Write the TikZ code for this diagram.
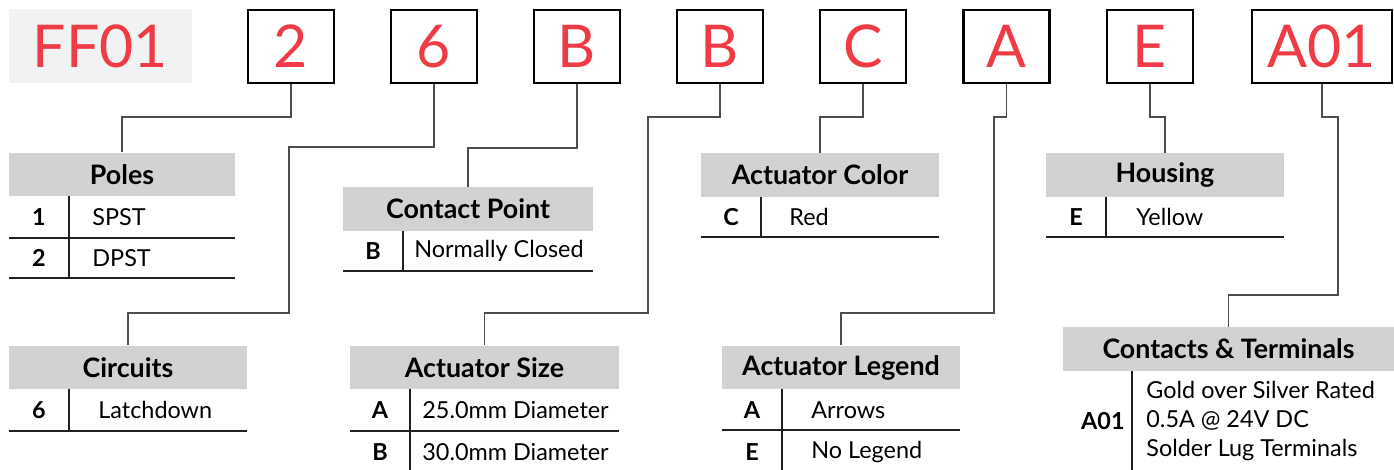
\documentclass[tikz,border=0pt]{standalone}
\usepackage{fontspec}
\setmainfont{Lato}
\usetikzlibrary{positioning}
\definecolor{codered}{HTML}{EE3B45}
\definecolor{hdrgray}{HTML}{D1D2D4}
\definecolor{basegray}{HTML}{F1F2F4}
\definecolor{linkgray}{HTML}{4D4D4D}
\definecolor{rulegray}{HTML}{231F20}
\tikzset{
  codebox/.style={draw=black, line width=1.3pt, minimum width=43pt, minimum height=36.5pt,
    inner sep=0pt, text=codered, font=\fontsize{29.5}{29.5}\selectfont},
  hdr/.style={fill=hdrgray, minimum height=21.75pt, inner sep=0pt,
    font=\fontsize{13.4}{13.4}\selectfont\bfseries},
  keytxt/.style={inner sep=0pt, font=\fontsize{11.7}{11.7}\selectfont\bfseries},
  valtxt/.style={inner sep=0pt, anchor=west, font=\fontsize{11.7}{14.5}\selectfont},
  link/.style={draw=linkgray, line width=0.75pt},
  rule/.style={draw=rulegray, line width=0.6pt}
}
\begin{document}
\begin{tikzpicture}[x=0.5pt, y=-0.5pt]
  \useasboundingbox (0,0) rectangle (1394,470);

  % part number
  \node[fill=basegray, minimum width=91.5pt, minimum height=37pt, inner sep=0pt,
    text=codered, font=\fontsize{29.5}{29.5}\selectfont] (base) at (100.5,46) {FF01};
  \node[codebox] (pol) at (291,46.5) {2};
  \node[codebox] (cir) at (434,46.5) {6};
  \node[codebox] (con) at (577,46.5) {B};
  \node[codebox] (siz) at (720,46.5) {B};
  \node[codebox] (col) at (863,46.5) {C};
  \node[codebox] (leg) at (1006.5,46.5) {A};
  \node[codebox] (hou) at (1150,46.5) {E};
  \node[codebox, minimum width=70pt] (ter) at (1322,46.5) {A01};

  % headers
  \node[hdr, minimum width=113pt] (poles) at (122,174.5) {Poles};
  \node[hdr, minimum width=125pt] (contact) at (468,209) {Contact Point};
  \node[hdr, minimum width=119pt] (circuits) at (128,367.5) {Circuits};
  \node[hdr, minimum width=134.5pt] (size) at (484.5,367.5) {Actuator Size};
  \node[hdr, minimum width=119pt] (color) at (820,175) {Actuator Color};
  \node[hdr, minimum width=119pt] (housing) at (1165,175) {Housing};
  \node[hdr, minimum width=119pt] (legend) at (841,367.5) {Actuator Legend};
  \node[hdr, minimum width=165.5pt] (terms) at (1228.5,349) {Contacts \& Terminals};

  % connectors
  \draw[link] (pol.south) |- (122,117) -- (poles.north);
  \draw[link] (cir.south) |- (289,147) |- (128,313) -- (circuits.north);
  \draw[link] (con.south) |- (468,148) -- (contact.north);
  \draw[link] (siz.south) |- (648,117) |- (484.5,313) -- (size.north);
  \draw[link] (col.south) |- (820,117) -- (color.north);
  \draw[link] (leg.south) |- (994,117) |- (841,313) -- (legend.north);
  \draw[link] (hou.south) |- (1165,117) -- (housing.north);
  \draw[link] (ter.south) |- (1338,117) |- (1228.5,295) -- (terms.north);

  % Poles
  \node[keytxt] (p1) at (39,217) {1};
  \node[valtxt] (p1v) at (92,217) {SPST};
  \node[keytxt] (p2) at (39,258) {2};
  \node[valtxt] (p2v) at (92,258) {DPST};
  \draw[rule] (9,238) -- (235,238);
  \draw[rule] (9,278) -- (235,278);
  \draw[rule] (69,196) -- (69,278);

  % Contact Point
  \node[keytxt] (c1) at (373,251) {B};
  \node[valtxt] (c1v) at (414,251) {Normally Closed};
  \draw[rule] (343,271) -- (593,271);
  \draw[rule] (403,231) -- (403,271);

  % Circuits
  \node[keytxt] (r1) at (39,410) {6};
  \node[valtxt] (r1v) at (98,410) {Latchdown};
  \draw[rule] (9,431) -- (247,431);
  \draw[rule] (69,389) -- (69,431);

  % Actuator Size
  \node[keytxt] (s1) at (380,410) {A};
  \node[valtxt] (s1v) at (422,410) {25.0mm Diameter};
  \node[keytxt] (s2) at (380,452) {B};
  \node[valtxt] (s2v) at (422,452) {30.0mm Diameter};
  \draw[rule] (350,431) -- (619,431);
  \draw[rule] (410,389) -- (410,470);

  % Actuator Color
  \node[keytxt] (k1) at (731,217) {C};
  \node[valtxt] (k1v) at (789,217) {Red};
  \draw[rule] (701,237) -- (939,237);
  \draw[rule] (761,197) -- (761,237);

  % Housing
  \node[keytxt] (h1) at (1076,217) {E};
  \node[valtxt] (h1v) at (1136,217) {Yellow};
  \draw[rule] (1046,237) -- (1284,237);
  \draw[rule] (1106,197) -- (1106,237);

  % Actuator Legend
  \node[keytxt] (l1) at (752,410) {A};
  \node[valtxt] (l1v) at (811,410) {Arrows};
  \node[keytxt] (l2) at (752,452) {E};
  \node[valtxt] (l2v) at (811,452) {No Legend};
  \draw[rule] (722,430) -- (960,430);
  \draw[rule] (782,389) -- (782,470);

  % Contacts & Terminals
  \node[keytxt, anchor=east] (t1) at (1125,421) {A01};
  \node[valtxt, align=left] (t1v) at (1146,421) {Gold over Silver Rated\\0.5A @ 24V DC\\Solder Lug Terminals};
  \draw[rule] (1132,371) -- (1132,470);
\end{tikzpicture}
\end{document}
